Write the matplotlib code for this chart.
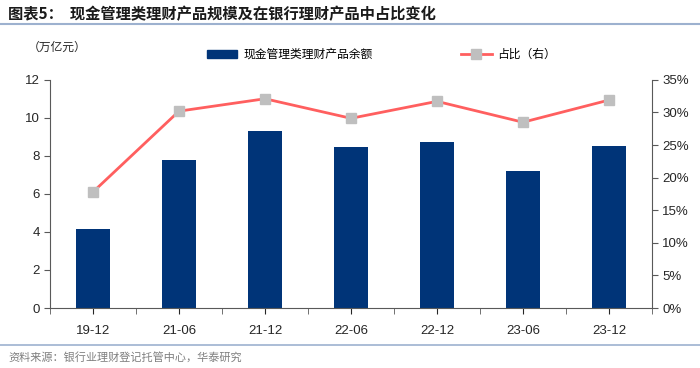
import matplotlib
matplotlib.use("Agg")
import matplotlib.pyplot as plt
from matplotlib.lines import Line2D
from matplotlib.patches import Patch
from matplotlib.ticker import FuncFormatter, MultipleLocator

plt.rcParams["font.family"] = ["Noto Sans CJK SC", "DejaVu Sans"]

periods = ["19-12", "21-06", "21-12", "22-06", "22-12", "23-06", "23-12"]
balance = [4.15, 7.78, 9.30, 8.47, 8.74, 7.21, 8.53]       # 万亿元
share = [17.8, 30.2, 32.1, 29.1, 31.7, 28.5, 31.9]          # %

NAVY, RED, GREY = "#003478", "#FF5F5F", "#BFBFBF"
TEXT, AXIS, RULE = "#262626", "#595959", "#9DB1CF"

fig = plt.figure(figsize=(7.0, 3.68), dpi=100, facecolor="white")
ax = fig.add_axes([0.0714, 0.163, 0.86, 0.62])
ax2 = ax.twinx()

x = range(len(periods))
ax.bar(x, balance, width=0.4, color=NAVY, zorder=2)
ax2.plot(x, share, color=RED, linewidth=2, marker="s", markersize=7,
         markerfacecolor=GREY, markeredgecolor=GREY, zorder=3)

ax.set_xlim(-0.5, len(periods) - 0.5)
ax.set_ylim(0, 12)
ax.yaxis.set_major_locator(MultipleLocator(2))
ax2.set_ylim(0, 35)
ax2.yaxis.set_major_locator(MultipleLocator(5))
ax2.yaxis.set_major_formatter(FuncFormatter(lambda v, _: f"{v:.0f}%"))

ax.set_xticks(list(x))
ax.set_xticklabels(periods)
ax.set_xticks([i + 0.5 for i in range(-1, len(periods))], minor=True)
ax.tick_params(axis="x", which="major", length=0, pad=8)
ax.tick_params(axis="x", which="minor", length=4, color=AXIS)

for a in (ax, ax2):
    a.spines["top"].set_visible(False)
    for s in ("left", "right", "bottom"):
        a.spines[s].set_color(AXIS)
    a.tick_params(labelsize=9.5, colors=TEXT, length=4)
    for lab in a.get_xticklabels() + a.get_yticklabels():
        lab.set_family(["Liberation Sans", "DejaVu Sans"])
ax.tick_params(axis="y", color=AXIS)
ax2.tick_params(axis="y", color=AXIS)
ax.spines["right"].set_visible(False)
ax2.spines["left"].set_visible(False)
ax2.spines["bottom"].set_visible(False)

# title + rules
fig.text(0.012, 0.962, "图表5：  现金管理类理财产品规模及在银行理财产品中占比变化",
         fontsize=11, fontweight="bold", color="#1a1a1a", va="center")
fig.add_artist(Line2D([0.0, 1.0], [0.934, 0.934], color=RULE, linewidth=1.5))
fig.add_artist(Line2D([0.0, 1.0], [0.062, 0.062], color=RULE, linewidth=1.2))
fig.text(0.012, 0.028, "资料来源：银行业理财登记托管中心，华泰研究",
         fontsize=8, color="#7f7f7f", va="center")

fig.text(0.04, 0.872, "（万亿元）", fontsize=8.5, color=TEXT, va="center")

handles = [Patch(facecolor=NAVY, edgecolor=NAVY),
           Line2D([], [], color=RED, linewidth=2, marker="s", markersize=7,
                  markerfacecolor=GREY, markeredgecolor=GREY)]
fig.legend(handles, ["现金管理类理财产品余额", "占比（右）"], ncol=2,
           loc="center", bbox_to_anchor=(0.545, 0.852), frameon=False,
           fontsize=8.5, handlelength=2.6, columnspacing=7.5, handletextpad=0.5)

fig.savefig("out.png", dpi=100, facecolor="white")
